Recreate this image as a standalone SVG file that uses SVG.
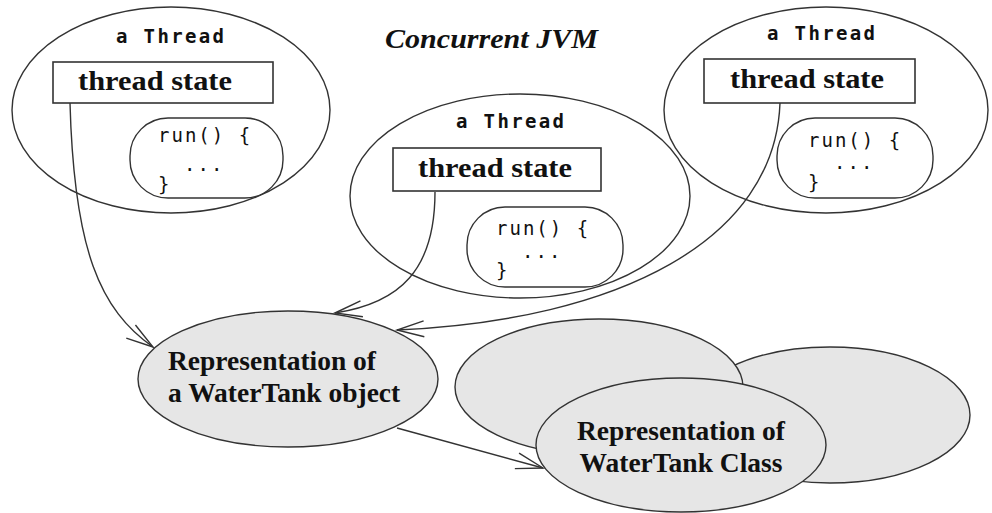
<svg xmlns="http://www.w3.org/2000/svg" width="992" height="513" viewBox="0 0 992 513">
<style>
.thr{fill:none;stroke:#333;stroke-width:1.4}
.box{fill:#fff;stroke:#333;stroke-width:1.6}
.run{fill:#fff;stroke:#333;stroke-width:1.4}
.rep{fill:#e6e6e6;stroke:#333;stroke-width:1.4}
.lbl{font-family:"DejaVu Sans Mono","Liberation Mono",monospace;font-weight:bold;font-size:19px;fill:#111}
.st{font-family:"Liberation Serif","Times New Roman",serif;font-weight:bold;font-size:27px;fill:#111}
.code{font-family:"DejaVu Sans Mono","Liberation Mono",monospace;font-size:19px;letter-spacing:2px;fill:#111}
.rt{font-family:"Liberation Serif","Times New Roman",serif;font-weight:bold;font-size:27.5px;fill:#111}
.conn{fill:none;stroke:#333;stroke-width:1.4}
</style>
<defs>
<marker id="arr" markerUnits="userSpaceOnUse" markerWidth="32" markerHeight="22" viewBox="-30 -11 32 22" refX="0" refY="0" orient="auto">
<path d="M-27,-8 L0,0 L-27,8" fill="none" stroke="#333" stroke-width="1.4"/>
</marker>
</defs>
<rect width="992" height="513" fill="#fff"/>
<text x="385" y="48" font-family="Liberation Serif,serif" font-weight="bold" font-style="italic" font-size="27" textLength="213" lengthAdjust="spacingAndGlyphs" fill="#111">Concurrent JVM</text>
<g id="thread-left">
<ellipse class="thr" cx="171" cy="110" rx="159" ry="103"/>
<text class="lbl" x="116" y="43" textLength="108">a Thread</text>
<rect class="box" x="53" y="62" width="220" height="41"/>
<text class="st" x="78" y="90" textLength="154" lengthAdjust="spacingAndGlyphs">thread state</text>
<rect class="run" x="130" y="118" width="153" height="80" rx="38" ry="38"/>
<text class="code" x="158" y="142">run() {</text>
<text class="code" x="184" y="171">...</text>
<text class="code" x="158" y="191">}</text>
</g>
<g id="thread-middle">
<ellipse class="thr" cx="520" cy="196" rx="170" ry="102"/>
<text class="lbl" x="456" y="128" textLength="108">a Thread</text>
<rect class="box" x="393" y="148" width="208" height="43"/>
<text class="st" x="418" y="177" textLength="154" lengthAdjust="spacingAndGlyphs">thread state</text>
<rect class="run" x="467" y="207" width="156" height="80" rx="38" ry="38"/>
<text class="code" x="496" y="235">run() {</text>
<text class="code" x="522" y="258">...</text>
<text class="code" x="496" y="277">}</text>
</g>
<g id="thread-right">
<ellipse class="thr" cx="826" cy="110" rx="162" ry="103"/>
<text class="lbl" x="767" y="40" textLength="108">a Thread</text>
<rect class="box" x="704" y="59" width="211" height="44"/>
<text class="st" x="730" y="88" textLength="154" lengthAdjust="spacingAndGlyphs">thread state</text>
<rect class="run" x="777" y="118" width="156" height="80" rx="38" ry="38"/>
<text class="code" x="808" y="147">run() {</text>
<text class="code" x="834" y="169">...</text>
<text class="code" x="808" y="189">}</text>
</g>
<g id="watertank-object">
<ellipse class="rep" cx="288" cy="379" rx="150" ry="68"/>
<text class="rt" x="168" y="370">Representation of</text>
<text class="rt" x="168" y="402">a WaterTank object</text>
</g>
<g id="watertank-class">
<ellipse class="rep" cx="830" cy="415" rx="140" ry="68"/>
<ellipse class="rep" cx="599" cy="387" rx="144" ry="68"/>
<ellipse class="rep" cx="681" cy="445" rx="145" ry="67"/>
<text class="rt" x="681" y="440" text-anchor="middle">Representation of</text>
<text class="rt" x="681" y="472" text-anchor="middle">WaterTank Class</text>
</g>
<g id="connectors">
<path class="conn" d="M70,103 C74,250 100,310 153,347" marker-end="url(#arr)"/>
<path class="conn" d="M435,192 C435,270 400,303 335,313" marker-end="url(#arr)"/>
<path class="conn" d="M780,103 C775,240 620,320 397,330" marker-end="url(#arr)"/>
<path class="conn" d="M397,428 L543,468" marker-end="url(#arr)"/>
</g>
</svg>
